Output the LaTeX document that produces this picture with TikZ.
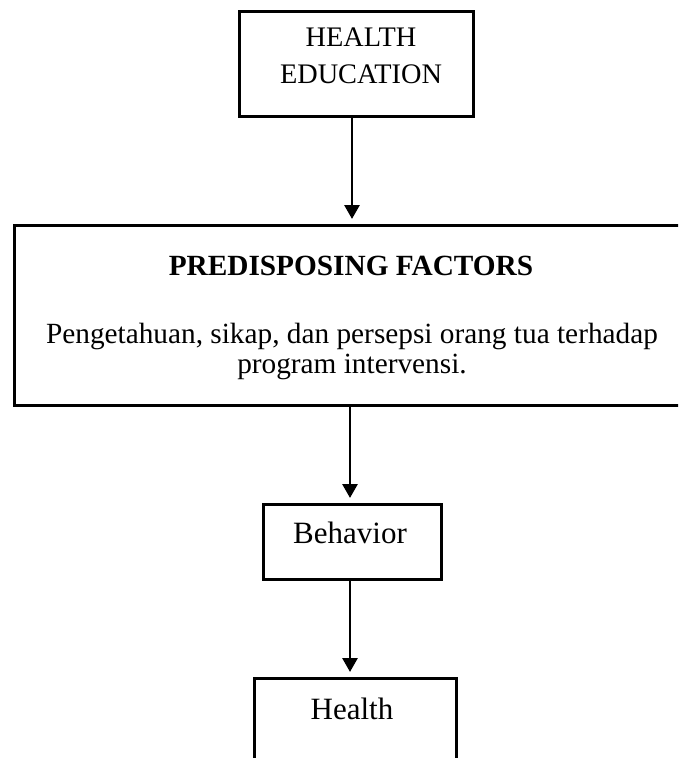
\documentclass[tikz,border=0pt]{standalone}
\usepackage{fontspec}
\setmainfont{Liberation Serif}
\usetikzlibrary{arrows.meta}
\begin{document}
\begin{tikzpicture}[x=1pt,y=-1pt,
  box/.style={draw, line width=2.6pt, inner sep=0pt, anchor=north west},
  lbl/.style={inner sep=0pt, anchor=base, align=center},
  arr/.style={line width=2.8pt, shorten >=5pt, -{Triangle[length=14pt,width=15pt]}}]
\clip (0,0) rectangle (678,758);
\fill[white] (0,0) rectangle (678,758);
% boxes
\node[box, minimum width=234pt, minimum height=105pt] (he) at (238,10) {};
\node[box, minimum width=690pt, minimum height=180pt] (pf) at (13,224) {};
\node[box, minimum width=178pt, minimum height=75pt] (beh) at (262,503) {};
\node[box, minimum width=202pt, minimum height=120pt] (hl) at (253,677) {};
% texts (anchor = baseline of last line)
\node[lbl, font=\fontsize{28.3}{36.5}\selectfont] (t1) at (361,83) {HEALTH\\EDUCATION};
\node[lbl, font=\fontsize{29.3}{36}\bfseries] (t2) at (351,275) {PREDISPOSING FACTORS};
\node[lbl, font=\fontsize{29.3}{30}\selectfont] (t3) at (352,373) {Pengetahuan, sikap, dan persepsi orang tua terhadap\\program intervensi.};
\node[lbl, font=\fontsize{31}{36}\selectfont] (t4) at (350,543) {Behavior};
\node[lbl, font=\fontsize{31}{36}\selectfont] (t5) at (352,719) {Health};
% connectors
\coordinate (a1) at (352,0);
\coordinate (a2) at (350,0);
\draw[arr] (he.south -| a1) -- (pf.north -| a1);
\draw[arr] (pf.south -| a2) -- (beh.north -| a2);
\draw[arr] (beh.south -| a2) -- (hl.north -| a2);
\end{tikzpicture}
\end{document}
